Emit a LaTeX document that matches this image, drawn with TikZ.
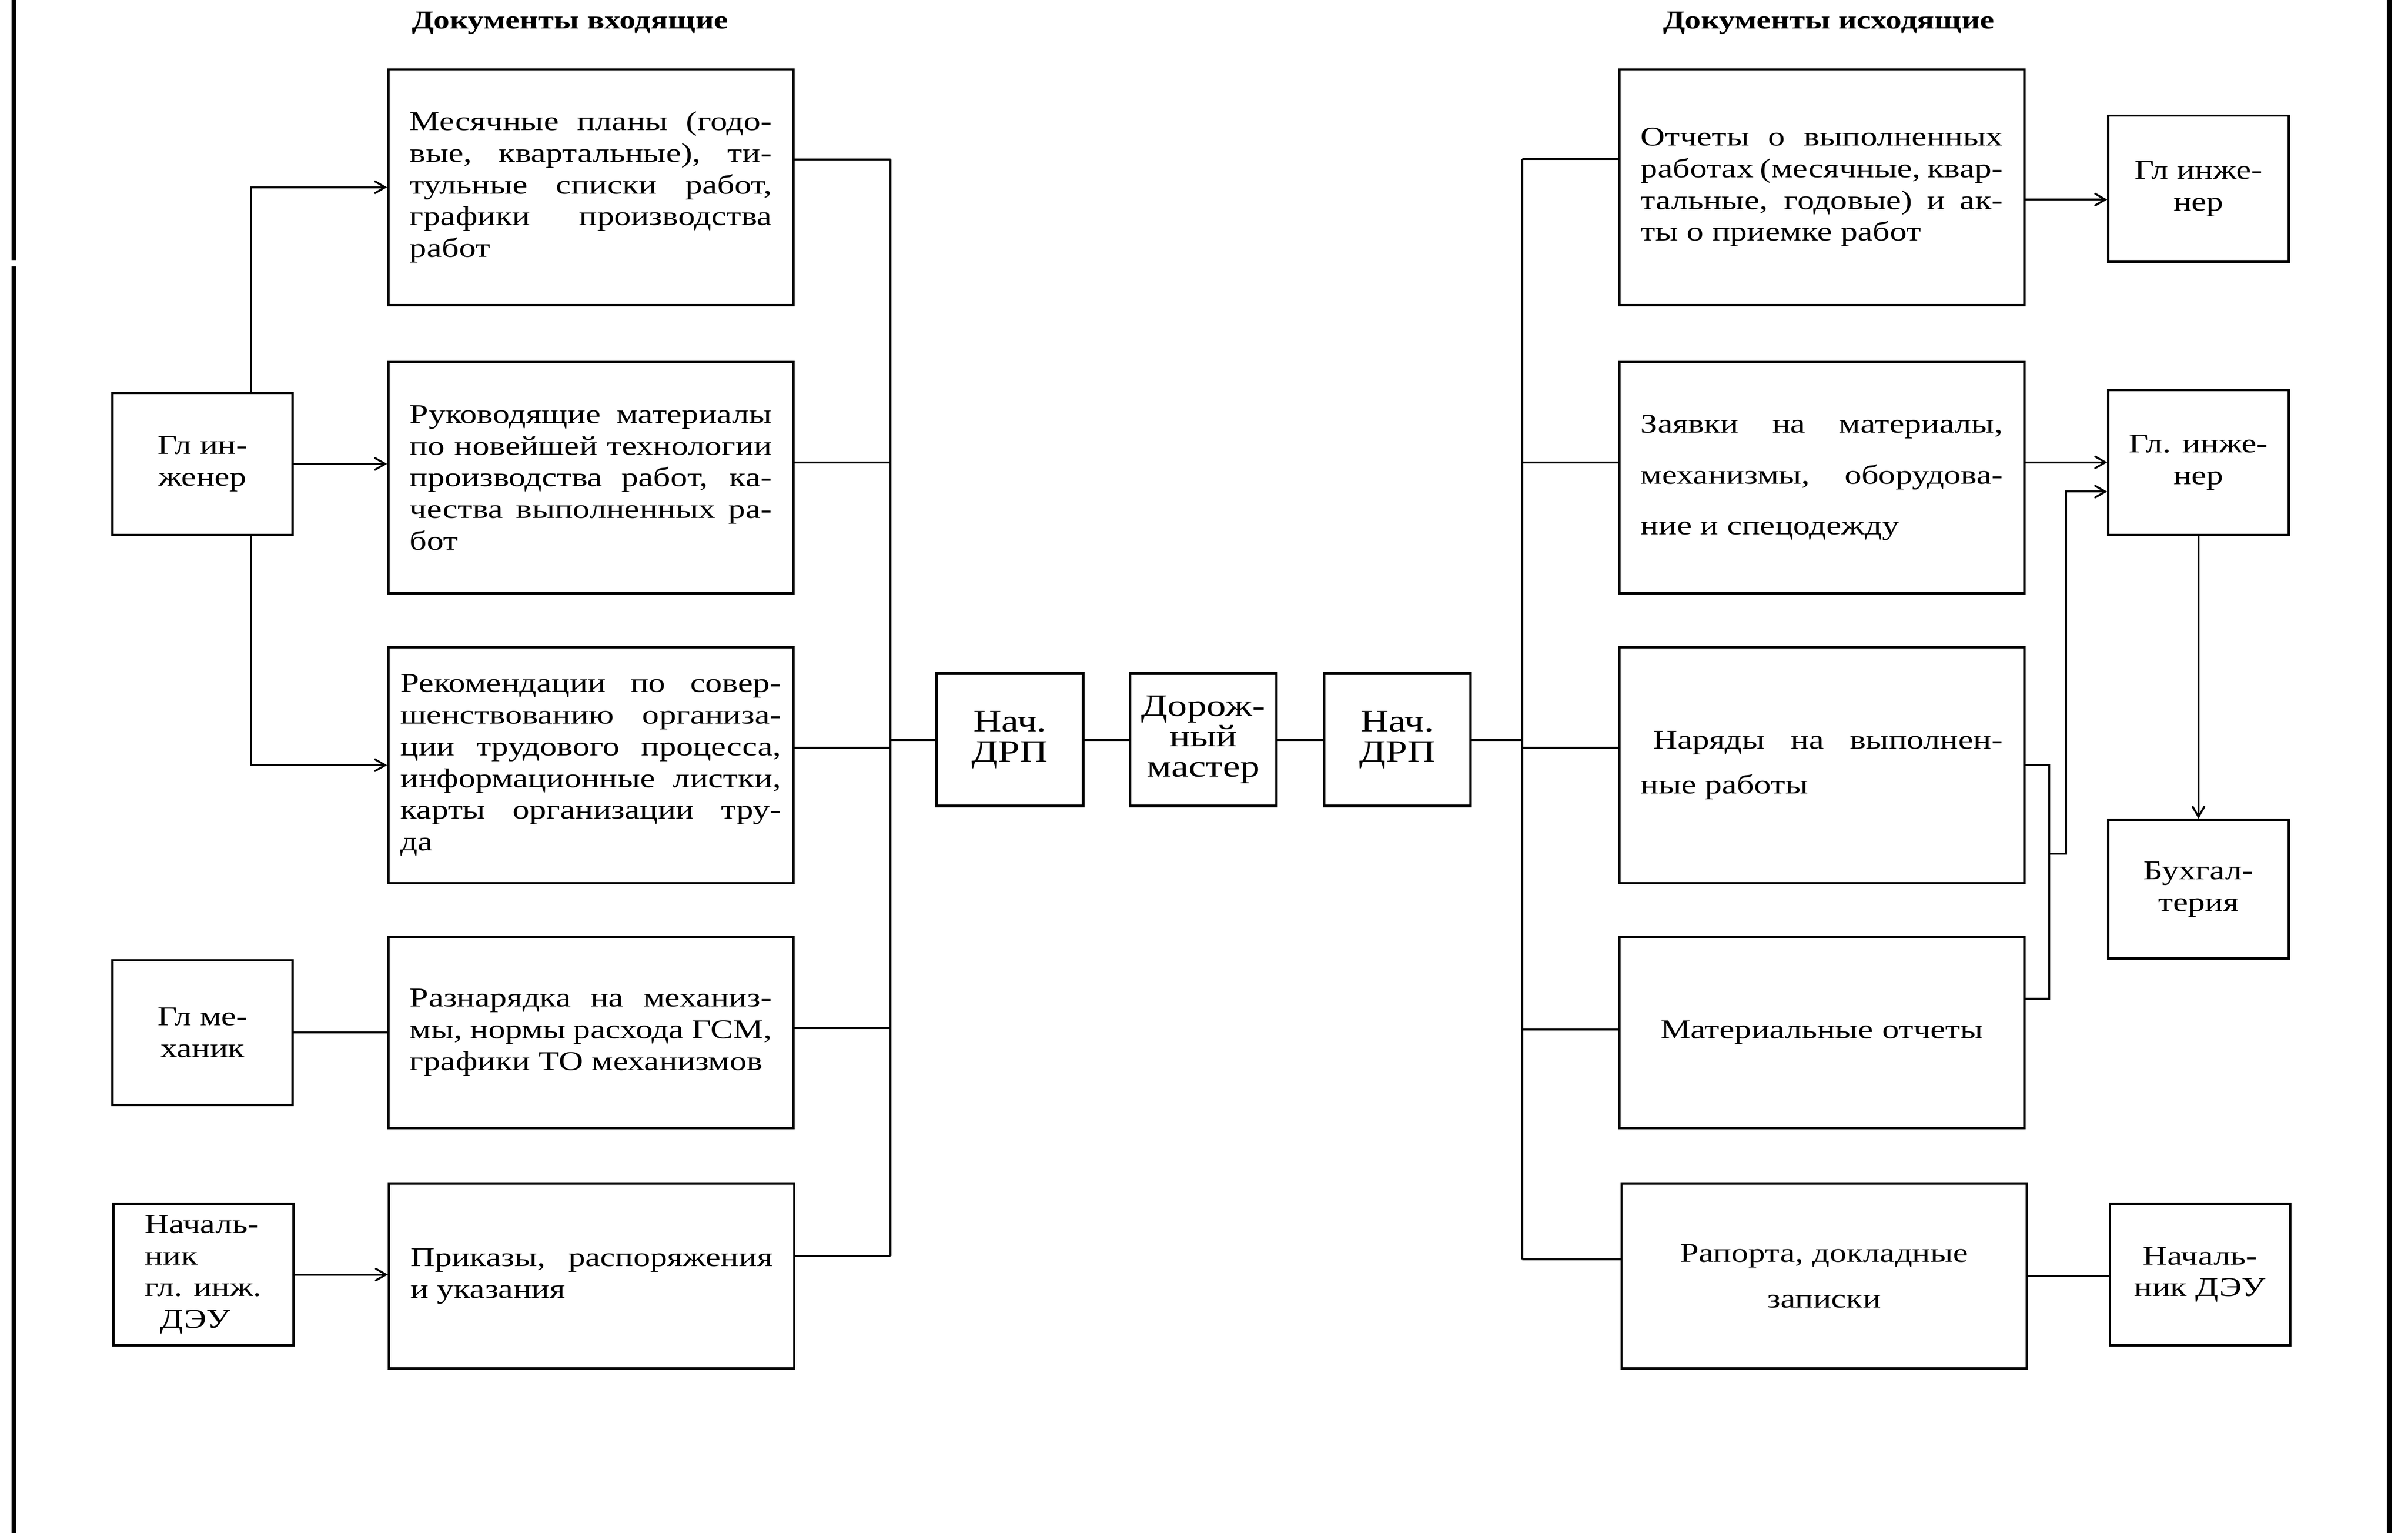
\documentclass[tikz,border=0pt]{standalone}
\usepackage{fontspec}
\setmainfont{Liberation Serif}[FakeStretch=1.25]
\usetikzlibrary{arrows}
\hyphenpenalty=10000
\tolerance=10000

\begin{document}
\begin{tikzpicture}[x=0.2mm,y=-0.2mm,>=angle 60,line width=0.25mm,
    doc/.style={shape=rectangle,draw=black,line width=0.3mm,text width=47mm,inner xsep=2.8mm,align=justify,font=\fontsize{10}{11.7}\selectfont},
    who/.style={shape=rectangle,draw=black,line width=0.3mm,minimum width=23.4mm,align=center,font=\fontsize{10}{11.7}\selectfont},
    drp/.style={shape=rectangle,draw=black,line width=0.35mm,minimum width=19mm,minimum height=17.2mm,align=center,font=\fontsize{11.5}{11.2}\selectfont},
    head/.style={font=\bfseries\fontsize{9.5}{11}\selectfont},
    rim/.style={line width=0.65mm}]
    \useasboundingbox (0,0) rectangle (1563,994.6);
    \draw[rim] (9,0) -- (9,169) (9,173) -- (9,994.6);
    \draw[rim] (1551,0) -- (1551,994.6);
    \node[head] (tin) at (370,15) {Документы входящие};
    \node[head] (tout) at (1187,15) {Документы исходящие};
    \node[doc,minimum height=30.6mm] (in1) at (383.5,121.5) {Месячные планы (годо-\linebreak вые, квартальные), ти-\linebreak тульные списки работ,\linebreak графики производства\linebreak работ};
    \node[doc,minimum height=30mm] (in2) at (383.5,310) {Руководящие материалы\linebreak по новейшей технологии\linebreak производства работ, ка-\linebreak чества выполненных ра-\linebreak бот};
    \node[doc,minimum height=30.6mm,text width=49.4mm,inner xsep=1.6mm] (in3) at (383.5,496.5) {Рекомендации по совер-\linebreak шенствованию организа-\linebreak ции трудового процесса,\linebreak информационные листки,\linebreak карты организации тру-\linebreak да};
    \node[doc,minimum height=24.8mm] (in4) at (383.5,670) {Разнарядка на механиз-\linebreak мы, нормы расхода ГСМ,\linebreak графики ТО механизмов};
    \node[doc,minimum height=24mm] (in5) at (384,828) {Приказы, распоряжения\linebreak и указания};
    \node[who,minimum height=18.4mm] (gi) at (131.5,301) {Гл ин-\\женер};
    \node[who,minimum height=18.8mm] (gm) at (131.5,670) {Гл ме-\\ханик};
    \node[who,minimum height=18.4mm,align=left] (nd) at (132,827) {Началь-\\ник\\гл. инж.\\\hspace*{2mm}ДЭУ};
    \node[drp] (drp1) at (655.5,480) {Нач.\\ДРП};
    \node[drp] (dm) at (781,480) {Дорож-\\ный\\мастер};
    \node[drp] (drp2) at (907,480) {Нач.\\ДРП};
    \node[doc,minimum height=30.6mm] (out1) at (1182.5,121.5) {Отчеты о выполненных\linebreak работах (месячные, квар-\linebreak тальные, годовые) и ак-\linebreak ты о приемке работ};
    \node[doc,minimum height=30mm,font=\fontsize{10}{18.8}\selectfont] (out2) at (1182.5,310) {Заявки на материалы,\linebreak механизмы, оборудова-\linebreak ние и спецодежду};
    \node[doc,minimum height=30.6mm,font=\fontsize{10}{16.5}\selectfont] (out3) at (1182.5,496.5) {\hspace*{1.6mm}Наряды на выполнен-\linebreak ные работы};
    \node[doc,minimum height=24.8mm,align=center] (out4) at (1182.5,670) {Материальные отчеты};
    \node[doc,minimum height=24mm,align=center,font=\fontsize{10}{17}\selectfont] (out5) at (1184,828) {Рапорта, докладные\\записки};
    \node[who,minimum height=19mm] (gi2) at (1427,122.5) {Гл инже-\\нер};
    \node[who,minimum height=18.8mm] (gi3) at (1427,300) {Гл. инже-\\нер};
    \node[who,minimum height=18mm] (bux) at (1427,577) {Бухгал-\\терия};
    \node[who,minimum height=18.4mm] (nd2) at (1428,827) {Началь-\\ник ДЭУ};
    \draw[->] ([xshift=6.3mm]gi.north) |- (in1.west);
    \draw[->] (gi.east) -- (gi.east -| in2.west);
    \draw[->] ([xshift=6.3mm]gi.south) |- (in3.west);
    \draw (gm.east) -- (gm.east -| in4.west);
    \draw[->] (nd.east) -- (nd.east -| in5.west);
    \coordinate (busL) at (578,480);
    \coordinate (busR) at (988,480);
    \foreach \b/\s in {in1/3.6,in2/2,in3/2.3,in4/0.6,in5/2.6} {
        \coordinate (p\b) at ([yshift=\s mm]\b.east);
        \draw (p\b) -- (busL |- p\b);
    }
    \draw (busL |- pin1) -- (busL |- pin5);
    \draw (busL) -- (drp1.west);
    \path (drp1) edge (dm) (dm) edge (drp2);
    \draw (drp2.east) -- (busR);
    \foreach \b/\s in {out1/3.7,out2/2,out3/2.3,out4/0.4,out5/2.2} {
        \coordinate (p\b) at ([yshift=\s mm]\b.west);
        \draw (busR |- p\b) -- (p\b);
    }
    \draw (busR |- pout1) -- (busR |- pout5);
    \coordinate (q1) at ([yshift=-1.6mm]out1.east);
    \draw[->] (q1) -- (q1 -| gi2.west);
    \draw[->] (out2.east |- gi3.west) -- (gi3.west);
    \draw[->] (gi3) -- (bux);
    \coordinate (brk) at (1330,554);
    \coordinate (q4) at ([yshift=4.4mm]out4.east);
    \coordinate (q5) at ([yshift=-3.8mm]gi3.west);
    \draw (out3.east) -| (brk) |- (q4);
    \draw[->] (brk) -- ++(11,0) |- (q5);
    \draw (out5.east) -- (out5.east -| nd2.west);
\end{tikzpicture}
\end{document}
